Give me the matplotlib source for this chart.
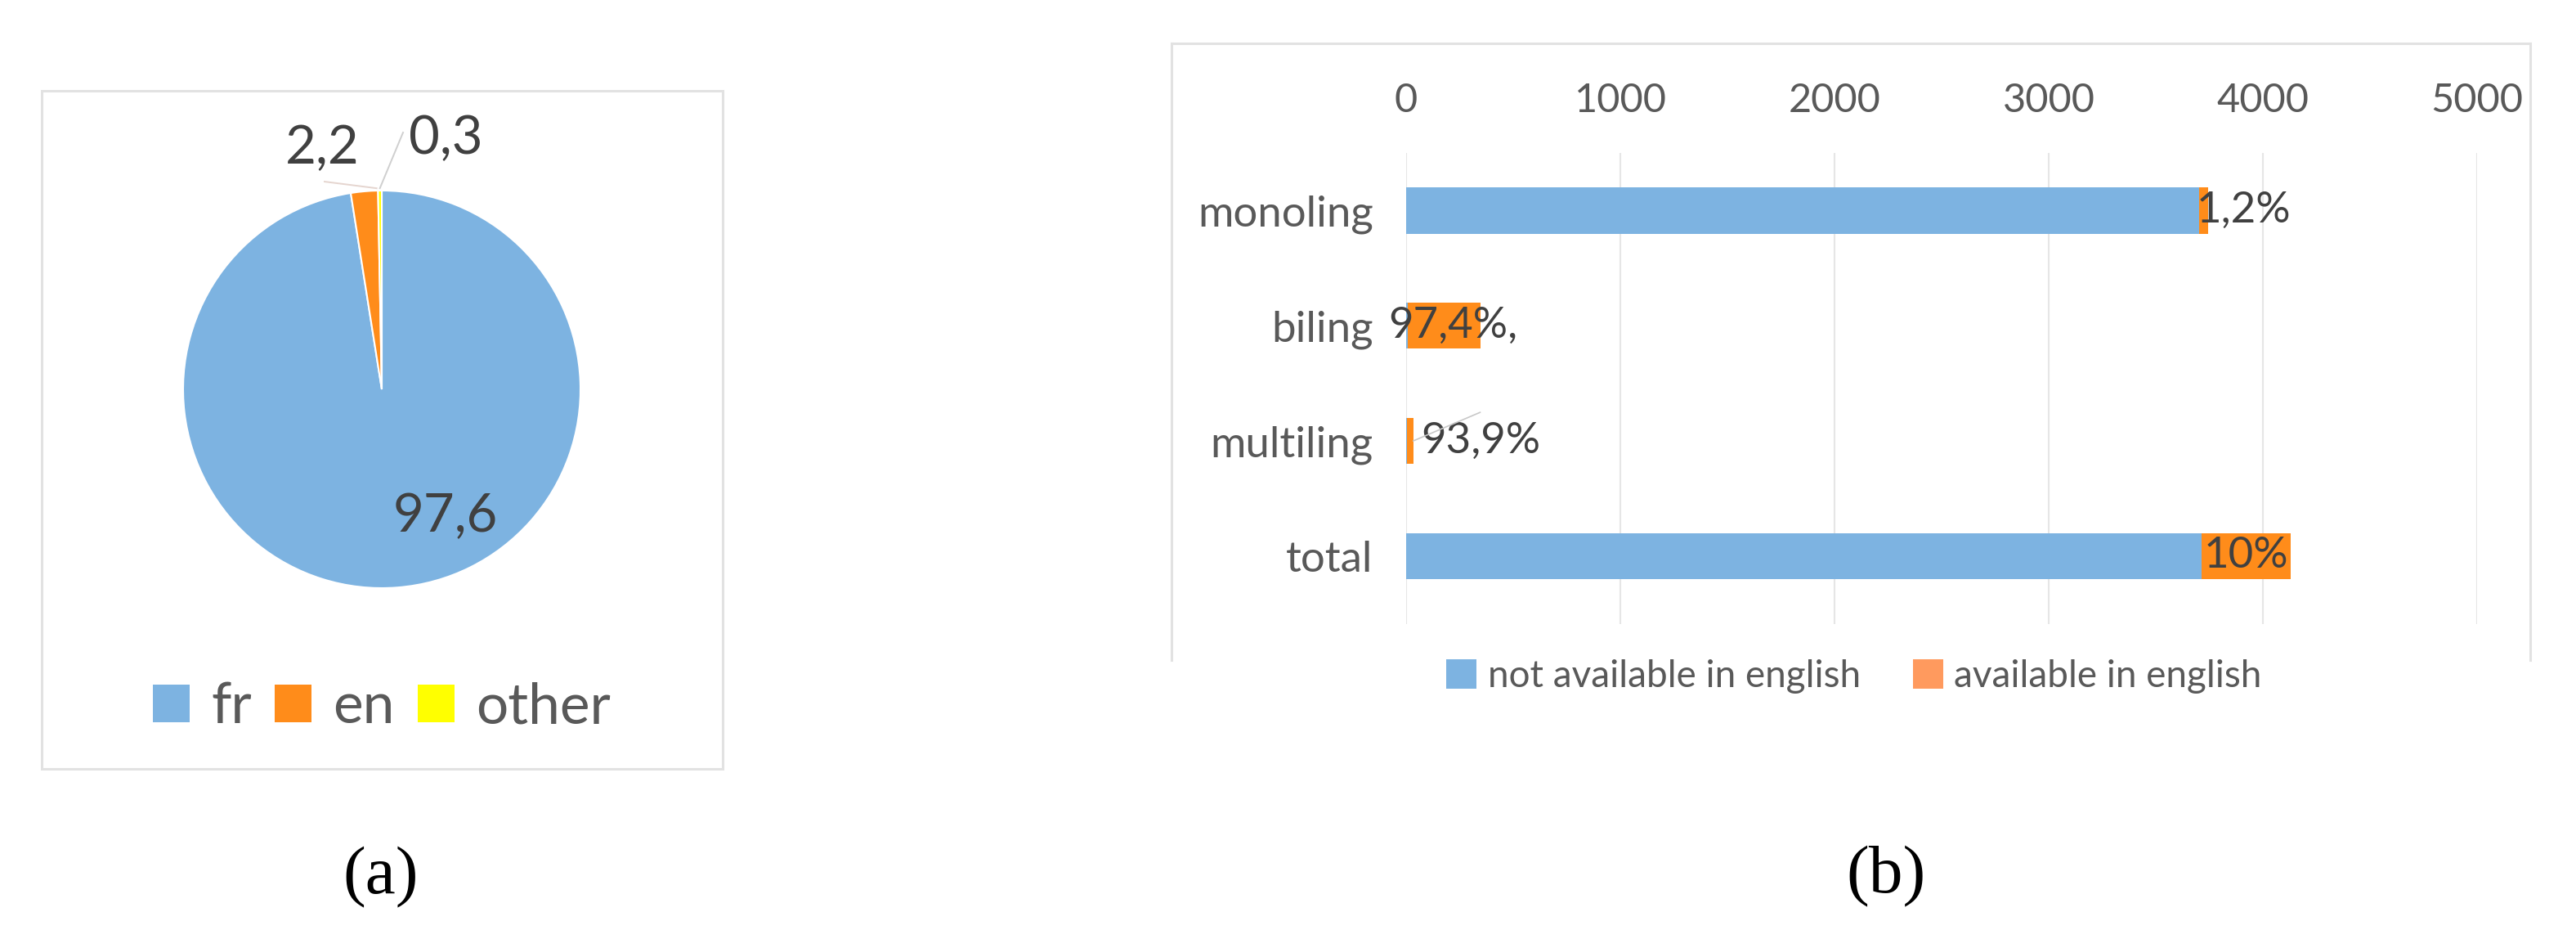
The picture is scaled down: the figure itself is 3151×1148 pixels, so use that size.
import matplotlib
matplotlib.use("Agg")
import matplotlib.pyplot as plt
from matplotlib.patches import Patch, Rectangle
from matplotlib.lines import Line2D
import numpy as np

plt.rcParams['font.family'] = ['Lato', 'DejaVu Sans']

# ---------------- data ----------------
pie_labels = ["fr", "en", "other"]
pie_values = [97.6, 2.2, 0.3]
pie_texts = ["97,6", "2,2", "0,3"]
pie_colors = ["#7DB3E1", "#FF8C1A", "#FFFF00"]

bar_categories = ["monoling", "biling", "multiling", "total"]
not_available = [3701, 9, 2, 3712]
available = [45, 340, 31, 416]
bar_label_texts = ["1,2%", "97,4%,", "93,9%", "10%"]
series_names = ["not available in english", "available in english"]
bar_colors = ["#7DB3E1", "#FF8C1A"]
legend_colors = ["#7DB3E1", "#FF9A5E"]
x_ticks = [0, 1000, 2000, 3000, 4000, 5000]

W, H = 3151, 1148
fig = plt.figure(figsize=(W / 100, H / 100), dpi=100)


def fx(px):
    return px / W


def fy(py):
    return 1 - py / H


TXT = "#595959"
DARK = "#404040"
FRAME = "#E2E2E2"

# ---------------- panel frames ----------------
fig.add_artist(Rectangle((fx(51), fy(940)), (884 - 51) / W, (940 - 111) / H,
                         transform=fig.transFigure, fill=False,
                         edgecolor=FRAME, lw=2.2))
for xs, ys in [([1433, 3095], [53, 53]), ([1433, 1433], [53, 807]),
               ([3095, 3095], [53, 807])]:
    fig.add_artist(Line2D([fx(x) for x in xs], [fy(y) for y in ys],
                          transform=fig.transFigure, color=FRAME, lw=2.2))

# ---------------- (a) pie ----------------
cx, cy, r = 467, 476, 243
ax1 = fig.add_axes([fx(cx - r), fy(cy + r), 2 * r / W, 2 * r / H])
wedges, _ = ax1.pie(pie_values, colors=pie_colors, startangle=90,
                    counterclock=False, radius=1,
                    wedgeprops=dict(edgecolor="white", linewidth=1.5))
ax1.set_xlim(-1, 1)
ax1.set_ylim(-1, 1)
ax1.axis("off")

# value labels
ax1.text(0.321, -0.716, pie_texts[0], ha="center", va="baseline",
         fontsize=47, color=DARK)
ax1.text(-0.300, 1.136, pie_texts[1], ha="center", va="baseline",
         fontsize=47, color=DARK)
ax1.text(0.321, 1.185, pie_texts[2], ha="center", va="baseline",
         fontsize=47, color=DARK)

# leader lines from wedges to labels
w_en = wedges[1]
a_en = np.deg2rad(min(w_en.theta1, w_en.theta2) + 0.4)
ax1.plot([-0.288, 1.012 * np.cos(a_en)], [1.045, 1.012 * np.sin(a_en)],
         color="#E5D5CF", lw=1.4, clip_on=False)
w_ot = wedges[2]
a_ot = np.deg2rad((w_ot.theta1 + w_ot.theta2) / 2)
ax1.plot([0.107, 1.012 * np.cos(a_ot)], [1.292, 1.012 * np.sin(a_ot)],
         color="#CFCFCF", lw=1.4, clip_on=False)

fig.legend([Patch(facecolor=c, edgecolor="none") for c in pie_colors],
           pie_labels, loc="center", bbox_to_anchor=(fx(467), fy(865)),
           ncol=3, frameon=False, fontsize=50, labelcolor=TXT,
           handlelength=0.65, handleheight=0.63, handletextpad=0.38,
           columnspacing=0.4, borderpad=0, borderaxespad=0)

fig.text(fx(466), fy(1073), "(a)", ha="center", va="center",
         fontsize=60, family="Liberation Serif", color="black")

# ---------------- (b) bars ----------------
ax2 = fig.add_axes([fx(1720), fy(763), 1310 / W, (763 - 187) / H])
y = np.arange(len(bar_categories))
ax2.barh(y, not_available, height=0.4, color=bar_colors[0], zorder=2)
ax2.barh(y, available, left=not_available, height=0.4,
         color=bar_colors[1], zorder=2)
ax2.set_xlim(0, 5000)
ax2.set_ylim(3.59, -0.5)
ax2.set_xticks(x_ticks)
ax2.set_xticklabels([str(t) for t in x_ticks])
ax2.set_yticks(y)
ax2.set_yticklabels(bar_categories)
ax2.xaxis.tick_top()
ax2.tick_params(axis="x", length=0, pad=30, labelsize=35, labelcolor=TXT)
ax2.tick_params(axis="y", length=0, pad=29, labelsize=38, labelcolor=TXT)
ax2.grid(axis="x", color="#E6E6E6", lw=1.5, zorder=0)
ax2.set_axisbelow(True)
for s in ax2.spines.values():
    s.set_visible(False)

# data labels for the "available" series
na, av = not_available, available
ax2.annotate(bar_label_texts[0], xy=(na[0], 0), xytext=(-3, 0),
             textcoords="offset pixels", ha="left", va="center",
             fontsize=38, color=DARK, zorder=3)
ax2.annotate(bar_label_texts[1], xy=(na[1] + av[1] / 2, 1), xytext=(10, 0),
             textcoords="offset pixels", ha="center", va="center",
             fontsize=38, color=DARK, zorder=3)
ax2.annotate(bar_label_texts[2], xy=(na[2] + av[2], 2), xytext=(10, 0),
             textcoords="offset pixels", ha="left", va="center",
             fontsize=38, color=DARK, zorder=3)
ax2.annotate("", xy=(na[2] + av[2], 2), xytext=(82, 35),
             textcoords="offset pixels",
             arrowprops=dict(arrowstyle="-", color="#C8C8C8", lw=1.2,
                             shrinkA=0, shrinkB=0))
ax2.annotate(bar_label_texts[3], xy=(na[3] + av[3] / 2, 3), xytext=(0, 0),
             textcoords="offset pixels", ha="center", va="center",
             fontsize=38, color=DARK, zorder=3)

fig.legend([Patch(facecolor=c, edgecolor="none") for c in legend_colors],
           series_names, loc="center", bbox_to_anchor=(fx(2268), fy(827)),
           ncol=2, frameon=False, fontsize=33, labelcolor=TXT,
           handlelength=0.8, handleheight=0.85, handletextpad=0.3,
           columnspacing=1.4, borderpad=0, borderaxespad=0)

fig.text(fx(2307), fy(1072), "(b)", ha="center", va="center",
         fontsize=60, family="Liberation Serif", color="black")

fig.savefig("out.png", dpi=100, facecolor="white")
